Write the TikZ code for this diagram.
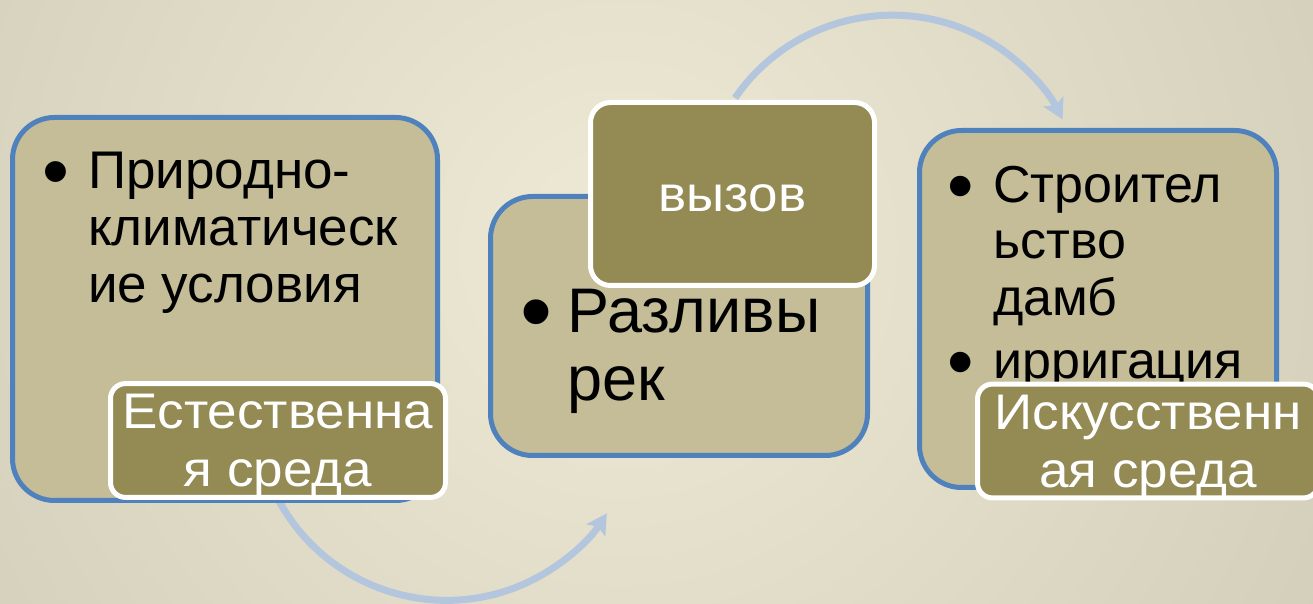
\documentclass[tikz,border=0pt]{standalone}
\usepackage{fontspec}
\setmainfont{Liberation Sans}
\newfontfamily\tagfont{Liberation Sans}[FakeStretch=1.06]
\usetikzlibrary{arrows.meta}
\definecolor{bgin}{HTML}{EEEAD6}
\definecolor{bgout}{HTML}{BEBAA4}
\definecolor{boxfill}{HTML}{C4BD97}
\definecolor{boxline}{HTML}{4F81BD}
\definecolor{tagfill}{HTML}{948A54}
\definecolor{flowblue}{HTML}{B4C5DE}
\newcommand{\linestrut}{\rule[-0.212em]{0pt}{1.117em}}
\newcommand{\bul}[1]{\llap{\makebox[#1][l]{\raisebox{-0.17em}{\scalebox{1.45}{•}}}}}

\begin{document}
\begin{tikzpicture}[x=1pt,y=1pt]
\tikzset{
    box/.style={draw=boxline, line width=5pt, fill=boxfill, rounded corners=42pt},
    boxtext/.style={anchor=north west, inner sep=0pt, align=left},
    tag/.style={draw=white, line width=5pt, fill=tagfill, text=white, align=center, inner sep=0pt},
    flow/.style={draw=flowblue, line width=7pt, -{Stealth[length=20pt,width=22pt,inset=4pt]}}
}
\useasboundingbox (0,0) rectangle (1313,604);
\clip (0,0) rectangle (1313,604);
% Background
\shade[inner color=bgin, outer color=bgout] (620,354) circle (1400);

% Arrows
\coordinate (arcL) at (278,105);
\coordinate (arcR) at (735,506);
\draw[flow] (arcL) arc[start angle=208, end angle=327, radius=191];
\draw[flow] (arcR) arc[start angle=145.5, end angle=27, radius=191];

% Boxes
\node[box, minimum width=425pt, minimum height=383pt] (boxL) at (225,295) {};
\node[box, minimum width=377pt, minimum height=259pt] (boxM) at (679,278) {};
\node[box, minimum width=357pt, minimum height=357pt] (boxR) at (1098,295) {};

\node[boxtext, font=\fontsize{53}{57}\selectfont] (txtL) at (88,464)
    {\bul{46pt}\linestrut Природно-\\климатическ\\ие условия};
\node[boxtext, font=\fontsize{63}{68}\selectfont] (txtM) at (567,329)
    {\bul{47pt}\linestrut Разливы\\рек};
\node[boxtext, font=\fontsize{52}{56.5}\selectfont] (txtR) at (993,449)
    {\bul{46pt}\linestrut Строител\\ьство\\дамб\\[6.5pt]\bul{46pt}ирригация};

% Labels
\node[tag, minimum width=335pt, minimum height=110pt, rounded corners=15pt, font=\tagfont\fontsize{50}{58}\selectfont] (tagL) at (278,163.5)
    {\linestrut Естественна\\я среда\linestrut};
\node[tag, minimum width=284pt, minimum height=183pt, rounded corners=20pt, font=\tagfont\fontsize{50}{58}\selectfont] (tagM) at (732.5,410)
    {\linestrut вызов};
\node[tag, minimum width=341pt, minimum height=111pt, rounded corners=15pt, font=\tagfont\fontsize{50}{58}\selectfont] (tagR) at (1148,163)
    {\linestrut Искусственн\\ая среда\linestrut};
\end{tikzpicture}
\end{document}
